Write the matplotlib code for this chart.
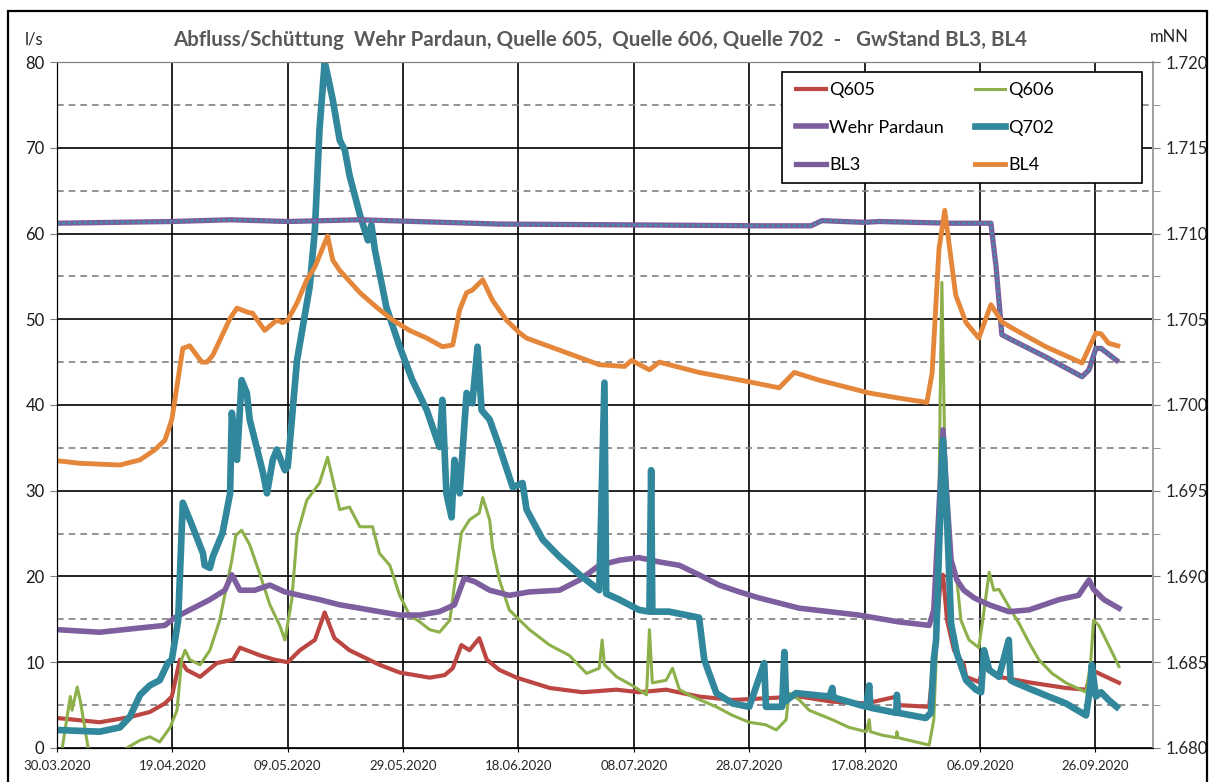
import matplotlib.pyplot as plt
import matplotlib.dates as mdates
from matplotlib.patches import Rectangle
from matplotlib.ticker import MultipleLocator, FormatStrFormatter
import pandas as pd

plt.rcParams['font.family'] = ['Lato', 'DejaVu Sans']

# Tage seit 30.03.2020 und Messwerte
t605 = [0, 7.4, 12.6, 16.1, 18.7, 19.9, 21.3, 22.5, 24.8, 27.7, 30.5, 31.7, 35.2, 37.7, 40.0, 42.1,
        44.7, 46.4, 48.1, 50.7, 55.9, 59.4, 64.6, 67.2, 68.6, 70.1, 71.5, 73.2, 74.5, 76.7, 79.7,
        85.4, 91.1, 97.0, 100.9, 105.6, 108.4, 111.3, 117.1, 122.9, 128.7, 134.4, 140.3, 145.6,
        146.0, 151.2, 152.0, 153.2, 153.6, 154.3, 155.5, 157.2, 157.6, 159.8, 160.7, 163.3, 169.0,
        174.9, 178.4, 179.4, 180.6, 184.1]
q605 = [3.5, 3.0, 3.6, 4.2, 5.2, 6.0, 10.3, 9.1, 8.3, 9.9, 10.3, 11.7, 10.8, 10.3, 10.0, 11.4,
        12.6, 15.8, 12.8, 11.4, 9.7, 8.8, 8.2, 8.5, 9.3, 12.0, 11.4, 12.8, 10.3, 9.1, 8.2,
        7.0, 6.5, 6.8, 6.5, 6.8, 6.4, 6.0, 5.6, 5.8, 6.0, 5.4, 5.2, 6.0,
        5.0, 4.8, 10.3, 19.6, 20.2, 14.9, 11.4, 9.7, 8.3, 7.7, 9.4, 8.3, 7.6,
        7.0, 6.8, 9.1, 8.7, 7.6]

t606 = [0, 0.9, 2.3, 2.6, 3.5, 4.0, 5.4, 6.5, 11.5, 12.1, 14.4, 16.1, 17.8, 19.6, 20.8, 21.6, 22.2,
        23.0, 24.8, 26.5, 28.2, 30.3, 31.0, 32.0, 33.4, 35.2, 36.9, 38.6, 39.5, 40.7, 41.6, 43.3,
        45.5, 46.9, 47.8, 49.0, 50.7, 52.5, 54.7, 55.9, 57.7, 59.4, 61.1, 62.9, 64.6, 66.3, 68.1,
        70.1, 71.5, 73.2, 73.8, 75.0, 75.5, 76.7, 78.4, 81.9, 85.4, 88.8, 91.8, 94.0, 94.5, 94.9,
        97.0, 99.7, 102.2, 102.7, 103.2, 105.6, 106.7, 107.9, 110.1, 114.3, 117.1, 120.0, 122.9,
        124.7, 126.4, 126.9, 128.7, 130.4, 134.4, 137.3, 140.3, 140.8, 141.0, 143.0, 145.5, 145.6,
        145.8, 148.9, 151.2, 152.0, 152.4, 152.7, 153.1, 153.4, 153.9, 154.6, 156.0, 156.7, 158.1,
        159.8, 160.7, 161.6, 162.4, 163.3, 165.0, 166.8, 168.5, 170.2, 172.5, 174.9, 178.4, 179.2,
        179.7, 180.6, 182.3, 184.1]
q606 = [-3, 0.0, 6.0, 4.4, 7.1, 5.6, 0.0, -3, -3, 0.0, 0.9, 1.3, 0.7, 2.4, 4.4, 10.3, 11.4,
        10.3, 9.7, 11.4, 14.9, 21.9, 24.8, 25.4, 23.7, 20.2, 16.7, 14.3, 12.6, 17.3, 24.8, 28.9,
        30.9, 33.9, 31.3, 27.8, 28.1, 25.8, 25.8, 22.7, 21.3, 17.8, 15.5, 14.7, 13.8, 13.5, 14.9,
        25.1, 26.6, 27.4, 29.2, 26.6, 23.4, 19.6, 16.1, 13.8, 12.0, 10.8, 8.7, 9.3, 12.6, 9.7,
        8.3, 7.3, 6.2, 13.8, 7.6, 7.9, 9.3, 6.8, 6.0, 4.8, 3.8, 3.0, 2.7,
        2.1, 3.3, 6.4, 5.6, 4.4, 3.3, 2.4, 1.9, 3.3, 1.9, 1.5, 1.2, 1.9,
        1.2, 0.7, 0.35, 3.3, 10.3, 17.3, 40.6, 54.3, 34.8, 23.1, 19.6, 14.9, 12.6,
        11.7, 16.0, 20.5, 18.4, 18.5, 16.5, 14.5, 12.3, 10.3, 8.7, 7.6, 6.5, 10.0,
        14.9, 14.3, 12.0, 9.5]

t_wehr = [0, 7.4, 14.4, 18.7, 20.4, 23.0, 26.5, 29.1, 30.3, 31.7, 34.3, 36.9, 39.5, 42.1, 45.5,
          49.0, 52.5, 55.9, 59.4, 62.9, 66.3, 68.9, 70.6, 72.4, 75.0, 78.4, 81.9, 87.1, 90.6, 94.0,
          97.5, 100.9, 104.4, 107.9, 111.3, 114.8, 118.3, 121.7, 125.2, 128.7, 133.9, 139.0, 146.0,
          151.2, 152.0, 153.6, 154.3, 155.0, 156.0, 157.2, 159.0, 161.6, 165.0, 168.5, 173.7,
          177.1, 178.9, 179.7, 181.5, 184.1]
wehr = [13.8, 13.5, 14.0, 14.3, 15.2, 16.1, 17.3, 18.4, 20.2, 18.4, 18.4, 19.0, 18.2, 17.8, 17.3,
        16.7, 16.3, 15.9, 15.5, 15.5, 15.9, 16.7, 19.8, 19.4, 18.4, 17.8, 18.2, 18.4, 19.6, 21.3,
        21.9, 22.2, 21.7, 21.3, 20.2, 19.0, 18.2, 17.5, 16.9, 16.3, 15.9, 15.5, 14.7,
        14.3, 16.1, 37.1, 28.9, 21.9, 19.6, 18.4, 17.5, 16.7, 15.9, 16.1, 17.3,
        17.8, 19.6, 18.5, 17.3, 16.3]

t702 = [0, 7.4, 10.9, 12.6, 14.4, 16.1, 17.8, 19.2, 19.9, 21.0, 21.8, 23.5, 25.3, 25.6, 26.5, 27.0,
        28.7, 30.0, 30.3, 31.2, 32.0, 32.9, 33.4, 34.6, 35.7, 36.4, 37.4, 38.1, 39.5, 40.0, 40.9,
        41.6, 42.6, 43.8, 44.7, 45.5, 46.4, 46.9, 47.8, 49.0, 49.9, 50.7, 51.6, 52.5, 53.9, 54.5,
        55.1, 57.1, 59.4, 61.6, 64.1, 66.3, 66.8, 67.5, 68.4, 68.9, 69.8, 71.0, 72.0, 72.9, 73.6,
        75.0, 76.7, 79.0, 80.7, 81.4, 84.2, 87.1, 90.6, 94.0, 94.9, 95.2, 97.5, 100.9, 102.7,
        103.0, 103.2, 106.1, 111.3, 112.2, 114.3, 117.1, 120.0, 122.6, 122.9, 125.7, 126.1, 126.4,
        128.1, 133.9, 134.4, 134.6, 140.3, 140.8, 141.0, 145.5, 145.6, 145.8, 150.6, 151.5,
        152.0, 152.4, 152.9, 153.6, 154.3, 155.0, 156.0, 157.6, 159.3, 160.2, 160.7, 161.6,
        163.3, 165.0, 165.3, 166.2, 169.0, 171.9, 174.9, 178.4, 179.2, 179.4, 180.1, 181.0,
        182.3, 183.7]
q702 = [2.1, 1.9, 2.4, 3.6, 6.2, 7.3, 7.9, 9.9, 10.3, 14.9, 28.6, 25.8, 22.7, 21.3, 21.0, 22.3,
        25.1, 29.7, 39.1, 33.6, 42.9, 41.4, 38.3, 35.1, 32.1, 29.7, 33.6, 34.8, 32.4, 32.8, 39.8,
        45.2, 49.1, 53.8, 60.4, 72.1, 80.0, 78.5, 75.6, 70.9, 69.7, 66.8, 64.5, 62.2, 59.2, 61.0,
        58.1, 51.4, 46.8, 42.9, 39.4, 35.1, 40.6, 29.7, 26.9, 33.6, 29.7, 41.4, 40.2, 46.8, 39.4,
        38.3, 35.1, 30.4, 30.9, 27.8, 24.3, 22.3, 20.2, 18.4, 42.6, 18.0, 17.3, 16.1, 15.9,
        32.4, 15.9, 15.9, 15.2, 10.3, 6.4, 5.2, 4.8, 9.9, 4.8, 4.8, 11.2, 5.5,
        6.4, 6.0, 7.0, 5.9, 4.8, 7.3, 4.7, 4.1, 6.2, 4.1, 3.5, 4.1,
        10.3, 12.6, 23.1, 35.9, 26.6, 14.5, 11.0, 7.9, 6.8, 6.5, 11.4, 9.1,
        8.3, 12.6, 7.9, 7.6, 6.8, 6.0, 5.2, 3.8, 7.6, 9.7, 6.0, 6.5,
        5.6, 4.8]

# Grundwasserstand (rechte Achse, mNN)
t_bl3 = [0, 19.9, 30.0, 40.0, 52.5, 76.7, 100.9, 121.7, 130.7, 132.6, 139.9, 142.5, 154.6,
         161.9, 162.8, 163.8, 165.5, 171.4, 177.7, 178.9, 180.1, 181.0, 183.7]
bl3 = [1.7106, 1.7107, 1.7108, 1.7107, 1.7108, 1.71055, 1.7105, 1.71045, 1.71045, 1.71075,
       1.71065, 1.7107, 1.7106, 1.7106, 1.70805, 1.7041, 1.7038, 1.7028, 1.70165, 1.70205,
       1.7033, 1.7033, 1.7026]

t_bl4 = [0, 4.0, 10.9, 14.4, 17.0, 18.7, 19.9, 21.8, 23.0, 25.1, 26.0, 27.0, 30.0, 31.2, 33.1,
         33.9, 36.0, 38.1, 39.1, 40.0, 41.6, 43.3, 44.7, 46.9, 47.8, 49.0, 52.5, 55.4, 58.2, 61.1,
         64.1, 66.8, 68.6, 69.8, 71.0, 72.0, 73.8, 75.5, 77.9, 80.2, 81.4, 87.1, 94.0, 98.4, 99.6,
         102.7, 104.4, 111.3, 120.0, 125.2, 127.8, 132.1, 140.8, 146.0, 150.8, 151.7, 152.9,
         153.9, 155.8, 157.6, 159.8, 161.9, 163.8, 165.5, 171.4, 177.7, 180.1, 181.0, 182.3, 183.9]
bl4 = [1.69675, 1.6966, 1.6965, 1.6968, 1.6974, 1.69795, 1.69915, 1.7033, 1.70345, 1.7025,
       1.7025, 1.7029, 1.70505, 1.70565, 1.7054, 1.70535, 1.70435, 1.70495, 1.7048, 1.70495,
       1.70595, 1.7073, 1.70805, 1.70985, 1.70845, 1.70785, 1.70655, 1.7057, 1.70495, 1.70435,
       1.7039, 1.7034, 1.7035, 1.70555, 1.70655, 1.7067, 1.7073, 1.7061, 1.70495, 1.7042,
       1.7039, 1.7032, 1.70235, 1.70225, 1.7026, 1.70205, 1.7025, 1.7019, 1.70135, 1.701,
       1.7019, 1.70145, 1.7007, 1.7004, 1.70015, 1.70185, 1.7091, 1.71135, 1.7064, 1.7048,
       1.7039, 1.70585, 1.70485, 1.7045, 1.7034, 1.70245, 1.7042, 1.70415, 1.7036, 1.70345]

start = pd.Timestamp('2020-03-30')


def to_dates(days):
    return start + pd.to_timedelta(days, unit='D')


fig = plt.figure(figsize=(12.11, 7.82), dpi=100)
ax1 = fig.add_axes([0.0471, 0.0435, 0.905, 0.8772])
ax2 = ax1.twinx()

l605, = ax1.plot(to_dates(t605), q605, color='#BB4642', lw=3.0, label='Q605')
l606, = ax1.plot(to_dates(t606), q606, color='#8DB04A', lw=2.2, label='Q606')
lwehr, = ax1.plot(to_dates(t_wehr), wehr, color='#7D5E9E', lw=4.0, label='Wehr Pardaun')
l702, = ax1.plot(to_dates(t702), q702, color='#31879C', lw=4.8, label='Q702')

lbl3, = ax2.plot(to_dates(t_bl3), bl3, color='#7B5D9D', lw=3.8, label='BL3')
ax2.plot(to_dates(t_bl3), bl3, color='#3A98AE', lw=1.6, ls=(0, (1.2, 1.2)))
lbl4, = ax2.plot(to_dates(t_bl4), bl4, color='#E5873A', lw=3.5, label='BL4')

ax1.set_ylim(0, 80)
ax2.set_ylim(1.680, 1.720)
ax1.set_xlim(start, start + pd.Timedelta(days=190))

ax1.yaxis.set_major_locator(MultipleLocator(10))
ax1.yaxis.set_minor_locator(MultipleLocator(5))
ax2.yaxis.set_major_locator(MultipleLocator(0.005))
ax2.yaxis.set_minor_locator(MultipleLocator(0.0025))
ax2.yaxis.set_major_formatter(FormatStrFormatter('%.3f'))

ax1.set_xticks(pd.date_range(start, periods=10, freq='20D'))
ax1.xaxis.set_major_formatter(mdates.DateFormatter('%d.%m.%Y'))

ax1.grid(True, which='major', axis='both', color='black', lw=1.2)
ax1.grid(True, which='minor', axis='y', color='#808080', lw=1.2, ls=(0, (4, 3)))
ax1.set_axisbelow(True)

ax1.tick_params(axis='y', which='major', length=5, color='#808080', labelsize=12,
                labelcolor='#1a1a1a', pad=4)
ax1.tick_params(axis='y', which='minor', length=0)
ax1.tick_params(axis='x', length=3, labelsize=9.5, labelcolor='#262626', pad=6)
ax2.tick_params(axis='y', which='both', length=5, color='#808080', labelsize=12,
                labelcolor='#262626', pad=4)

for ax in (ax1, ax2):
    ax.spines['left'].set_color('black')
    ax.spines['bottom'].set_color('black')
    ax.spines['top'].set_color('#808080')
    ax.spines['right'].set_color('#A0A0A0')
    ax.spines['right'].set_linewidth(1.3)

# Legende: Rahmen separat, Einträge zweispaltig
ax2.add_patch(Rectangle((0.6615, 0.8236), 0.3285, 0.1618, transform=ax2.transAxes,
                        facecolor='white', edgecolor='black', lw=1.2, zorder=9))
leg = ax2.legend([l605, lwehr, lbl3, l606, l702, lbl4],
                 ['Q605', 'Wehr Pardaun', 'BL3', 'Q606', 'Q702', 'BL4'],
                 ncol=2, loc='upper left', bbox_to_anchor=(0.6745, 0.9708),
                 fontsize=13, frameon=False, labelspacing=1.2, handlelength=1.65,
                 handletextpad=0.17, columnspacing=1.75, borderpad=0, borderaxespad=0)
leg.set_zorder(10)

fig.text(0.4955, 0.949, 'Abfluss/Schüttung  Wehr Pardaun, Quelle 605,  Quelle 606, Quelle 702  -   GwStand BL3, BL4',
         ha='center', va='center', fontsize=14.8, fontweight='bold', color='#595959')
fig.text(0.0285, 0.95, 'l/s', ha='center', va='center', fontsize=12, color='#262626')
fig.text(0.9495, 0.953, 'mNN', ha='left', va='center', fontsize=12, color='#262626')

fig.add_artist(Rectangle((0.0066, -0.02), 0.9905, 1.006, transform=fig.transFigure,
                         fill=False, ec='black', lw=1.6))

fig.savefig('out.png', dpi=100)
